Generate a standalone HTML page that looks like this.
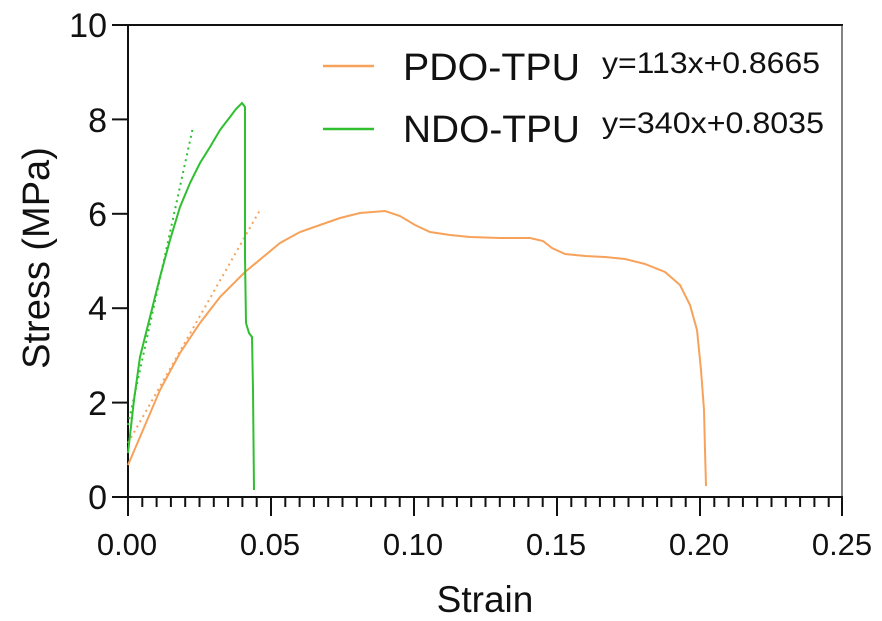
<!DOCTYPE html>
<html><head><meta charset="utf-8"><style>body{margin:0;background:#fff}svg{display:block}</style></head><body>
<svg width="882" height="621" xmlns="http://www.w3.org/2000/svg" font-family="Liberation Sans, Arial, sans-serif">
<rect width="882" height="621" fill="#fff"/>
<line x1="128" y1="25" x2="843" y2="25" stroke="#111" stroke-width="2"/>
<line x1="842" y1="25" x2="842" y2="497" stroke="#333" stroke-width="1.2"/>
<line x1="128" y1="24" x2="128" y2="498" stroke="#111" stroke-width="2"/>
<line x1="112" y1="497" x2="843" y2="497" stroke="#111" stroke-width="2"/>
<g stroke="#111" stroke-width="2">
<line x1="112" y1="25" x2="128" y2="25"/><line x1="112" y1="119.4" x2="128" y2="119.4"/><line x1="112" y1="213.8" x2="128" y2="213.8"/><line x1="112" y1="308.2" x2="128" y2="308.2"/><line x1="112" y1="402.6" x2="128" y2="402.6"/>
</g>
<g font-size="34" fill="#111" text-anchor="end">
<text x="107" y="37">10</text><text x="107" y="132">8</text><text x="107" y="226">6</text><text x="107" y="320">4</text><text x="107" y="415">2</text><text x="107" y="509">0</text>
</g>
<g font-size="31" fill="#111" text-anchor="middle">
<text x="127" y="555">0.00</text><text x="270" y="555">0.05</text><text x="413" y="555">0.10</text><text x="556" y="555">0.15</text><text x="699" y="555">0.20</text><text x="842" y="555">0.25</text>
</g>
<text x="485" y="612" font-size="37" text-anchor="middle" fill="#111">Strain</text>
<text transform="translate(49,258) rotate(-90)" font-size="38" text-anchor="middle" fill="#111">Stress (MPa)</text>
<line x1="128" y1="443" x2="260" y2="210" stroke="#f7a25a" stroke-width="2" stroke-dasharray="2,4"/>
<line x1="128" y1="425" x2="193" y2="127" stroke="#2fbf2f" stroke-width="2" stroke-dasharray="2,4"/>
<polyline fill="none" stroke="#f7a25a" stroke-width="2" points="128,465 140,437 160,390 180,353 200,323 220,297 245,272 280,243 300,232 320,225 340,218 360,213 385,211 400,216 415,225 430,232 450,235 470,237 500,238 530,238 543,241 552,248 565,254 585,256 605,257 625,259 645,264 665,272 680,285 690,305 697,330 701,370 704,410 705,450 706,486"/>
<polyline fill="none" stroke="#2fbf2f" stroke-width="2" points="128,453 134,400 140,357 150,317 160,277 170,240 180,207 190,183 200,163 210,147 220,130 230,117 236,109 242,103 245,107 245,257 246,323 249,333 252,337 253,390 254,490"/>
<line x1="323" y1="66" x2="374" y2="66" stroke="#f7a25a" stroke-width="2.5"/>
<line x1="323" y1="129" x2="374" y2="129" stroke="#2fbf2f" stroke-width="2.5"/>
<text x="403" y="80" font-size="38" fill="#111" textLength="177" lengthAdjust="spacingAndGlyphs">PDO-TPU</text>
<text x="403" y="142" font-size="38" fill="#111" textLength="177" lengthAdjust="spacingAndGlyphs">NDO-TPU</text>
<text x="602" y="73" font-size="30" fill="#111" textLength="218" lengthAdjust="spacingAndGlyphs">y=113x+0.8665</text>
<text x="602" y="133" font-size="30" fill="#111" textLength="222" lengthAdjust="spacingAndGlyphs">y=340x+0.8035</text>
<g stroke="#111" stroke-width="2">
<line x1="142.3" y1="497" x2="142.3" y2="507"/><line x1="156.6" y1="497" x2="156.6" y2="507"/><line x1="170.9" y1="497" x2="170.9" y2="507"/><line x1="185.2" y1="497" x2="185.2" y2="507"/><line x1="199.5" y1="497" x2="199.5" y2="507"/><line x1="213.8" y1="497" x2="213.8" y2="507"/><line x1="228.1" y1="497" x2="228.1" y2="507"/><line x1="242.4" y1="497" x2="242.4" y2="507"/><line x1="256.7" y1="497" x2="256.7" y2="507"/>
<line x1="285.3" y1="497" x2="285.3" y2="507"/><line x1="299.6" y1="497" x2="299.6" y2="507"/><line x1="313.9" y1="497" x2="313.9" y2="507"/><line x1="328.2" y1="497" x2="328.2" y2="507"/><line x1="342.5" y1="497" x2="342.5" y2="507"/><line x1="356.8" y1="497" x2="356.8" y2="507"/><line x1="371.1" y1="497" x2="371.1" y2="507"/><line x1="385.4" y1="497" x2="385.4" y2="507"/><line x1="399.7" y1="497" x2="399.7" y2="507"/>
<line x1="428.3" y1="497" x2="428.3" y2="507"/><line x1="442.6" y1="497" x2="442.6" y2="507"/><line x1="456.9" y1="497" x2="456.9" y2="507"/><line x1="471.2" y1="497" x2="471.2" y2="507"/><line x1="485.5" y1="497" x2="485.5" y2="507"/><line x1="499.8" y1="497" x2="499.8" y2="507"/><line x1="514.1" y1="497" x2="514.1" y2="507"/><line x1="528.4" y1="497" x2="528.4" y2="507"/><line x1="542.7" y1="497" x2="542.7" y2="507"/>
<line x1="571.3" y1="497" x2="571.3" y2="507"/><line x1="585.6" y1="497" x2="585.6" y2="507"/><line x1="599.9" y1="497" x2="599.9" y2="507"/><line x1="614.2" y1="497" x2="614.2" y2="507"/><line x1="628.5" y1="497" x2="628.5" y2="507"/><line x1="642.8" y1="497" x2="642.8" y2="507"/><line x1="657.1" y1="497" x2="657.1" y2="507"/><line x1="671.4" y1="497" x2="671.4" y2="507"/><line x1="685.7" y1="497" x2="685.7" y2="507"/>
<line x1="714.3" y1="497" x2="714.3" y2="507"/><line x1="728.6" y1="497" x2="728.6" y2="507"/><line x1="742.9" y1="497" x2="742.9" y2="507"/><line x1="757.2" y1="497" x2="757.2" y2="507"/><line x1="771.5" y1="497" x2="771.5" y2="507"/><line x1="785.8" y1="497" x2="785.8" y2="507"/><line x1="800.1" y1="497" x2="800.1" y2="507"/><line x1="814.4" y1="497" x2="814.4" y2="507"/><line x1="828.7" y1="497" x2="828.7" y2="507"/>
<line x1="271" y1="497" x2="271" y2="516"/><line x1="414" y1="497" x2="414" y2="516"/><line x1="557" y1="497" x2="557" y2="516"/><line x1="700" y1="497" x2="700" y2="516"/><line x1="842" y1="497" x2="842" y2="516"/><line x1="128" y1="497" x2="128" y2="516"/>
</g>
</svg>
</body></html>
